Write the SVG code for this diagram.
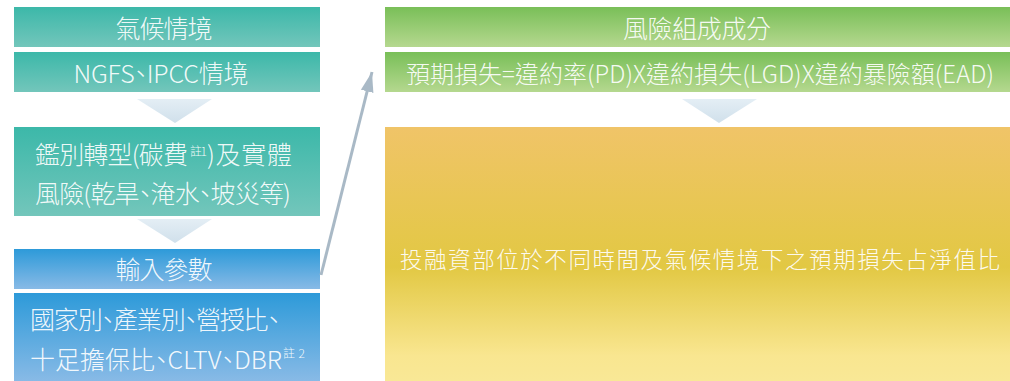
<svg xmlns="http://www.w3.org/2000/svg" width="1010" height="381" viewBox="0 0 1010 381">
<defs>
<linearGradient id="gTeal" x1="0" y1="0" x2="0" y2="1"><stop offset="0" stop-color="#3cb8a9"/><stop offset="1" stop-color="#73c6bb"/></linearGradient>
<linearGradient id="gBlue" x1="0" y1="0" x2="0" y2="1"><stop offset="0" stop-color="#2d9ad9"/><stop offset="1" stop-color="#88bae6"/></linearGradient>
<linearGradient id="gGreen" x1="0" y1="0" x2="0" y2="1"><stop offset="0" stop-color="#79bf58"/><stop offset="1" stop-color="#b5d88f"/></linearGradient>
<linearGradient id="gYellow" x1="0" y1="0" x2="0" y2="1"><stop offset="0" stop-color="#f0c468"/><stop offset="0.55" stop-color="#e2c843"/><stop offset="0.9" stop-color="#f9e690"/><stop offset="1" stop-color="#f9e896"/></linearGradient>
<linearGradient id="gChev" x1="0" y1="0" x2="0" y2="1"><stop offset="0" stop-color="#e4eef5"/><stop offset="1" stop-color="#d0e0eb"/></linearGradient>
<marker id="arrow" markerUnits="userSpaceOnUse" markerWidth="20" markerHeight="30" refX="28" refY="9" viewBox="0 0 28 18" orient="auto">
<path d="M0,0 L28,9 L0,18 Z" fill="#a9b9c6"/>
</marker>
</defs>
<style>
text{font-family:"Noto Sans CJK TC","Noto Sans",sans-serif;font-weight:300;fill:#fff;fill-opacity:0.93;font-feature-settings:"palt";}
.t{font-size:25px;}
.f{font-size:24px;}
.s{font-size:12px;}
.y{font-size:22.5px;}
</style>
<g id="n-climate">
<rect x="14" y="7" width="306" height="40" fill="url(#gTeal)"/>
<text class="t" x="164" y="27" text-anchor="middle" dominant-baseline="central" textLength="97" lengthAdjust="spacing">氣候情境</text>
</g>
<g id="n-ngfs">
<rect x="14" y="52" width="306" height="40" fill="url(#gTeal)"/>
<text class="t" x="161" y="72" text-anchor="middle" dominant-baseline="central" textLength="175" lengthAdjust="spacing">NGFS、IPCC情境</text>
</g>
<g id="chev1"><polygon points="137,99 212,99 175,123" fill="url(#gChev)"/></g>
<g id="n-risk">
<rect x="14" y="127" width="306" height="89" fill="url(#gTeal)"/>
<text class="t" x="35" y="153" dominant-baseline="central"><tspan textLength="153" lengthAdjust="spacing">鑑別轉型(碳費</tspan><tspan class="s" x="190" y="150" textLength="17">註1</tspan><tspan x="207" y="153" textLength="85" lengthAdjust="spacing">)及實體</tspan></text>
<text class="t" x="35" y="192" dominant-baseline="central" textLength="256" lengthAdjust="spacing">風險(乾旱、淹水、坡災等)</text>
</g>
<g id="chev2"><polygon points="137,219 212,219 175,243" fill="url(#gChev)"/></g>
<g id="n-input">
<rect x="14" y="249" width="306" height="40" fill="url(#gBlue)"/>
<text class="t" x="164" y="268" text-anchor="middle" dominant-baseline="central" textLength="97" lengthAdjust="spacing">輸入參數</text>
</g>
<g id="n-params">
<rect x="14" y="293" width="306" height="88" fill="url(#gBlue)"/>
<text class="t" x="30" y="318" dominant-baseline="central" textLength="250" lengthAdjust="spacing">國家別、產業別、營授比、</text>
<text class="t" x="30" y="358" dominant-baseline="central"><tspan textLength="252" lengthAdjust="spacing">十足擔保比、CLTV、DBR</tspan><tspan class="s" x="283" y="352" textLength="22">註2</tspan></text>
</g>
<g id="n-components">
<rect x="385" y="7" width="625" height="40" fill="url(#gGreen)"/>
<text class="t" x="697" y="27" text-anchor="middle" dominant-baseline="central" textLength="148" lengthAdjust="spacing">風險組成成分</text>
</g>
<g id="n-formula">
<rect x="385" y="52" width="625" height="40" fill="url(#gGreen)"/>
<text class="f" x="700" y="72" text-anchor="middle" dominant-baseline="central" textLength="588" lengthAdjust="spacing">預期損失=違約率(PD)X違約損失(LGD)X違約暴險額(EAD)</text>
</g>
<g id="chev3"><polygon points="682,99 757,99 719,123" fill="url(#gChev)"/></g>
<g id="n-result">
<rect x="385" y="127" width="625" height="254" fill="url(#gYellow)"/>
<text class="y" x="700" y="258" text-anchor="middle" dominant-baseline="central" textLength="600" lengthAdjust="spacing">投融資部位於不同時間及氣候情境下之預期損失占淨值比</text>
</g>
<g id="connectors">
<line x1="321" y1="275" x2="372" y2="72" stroke="#a9b9c6" stroke-width="3" marker-end="url(#arrow)"/>
</g>
</svg>
